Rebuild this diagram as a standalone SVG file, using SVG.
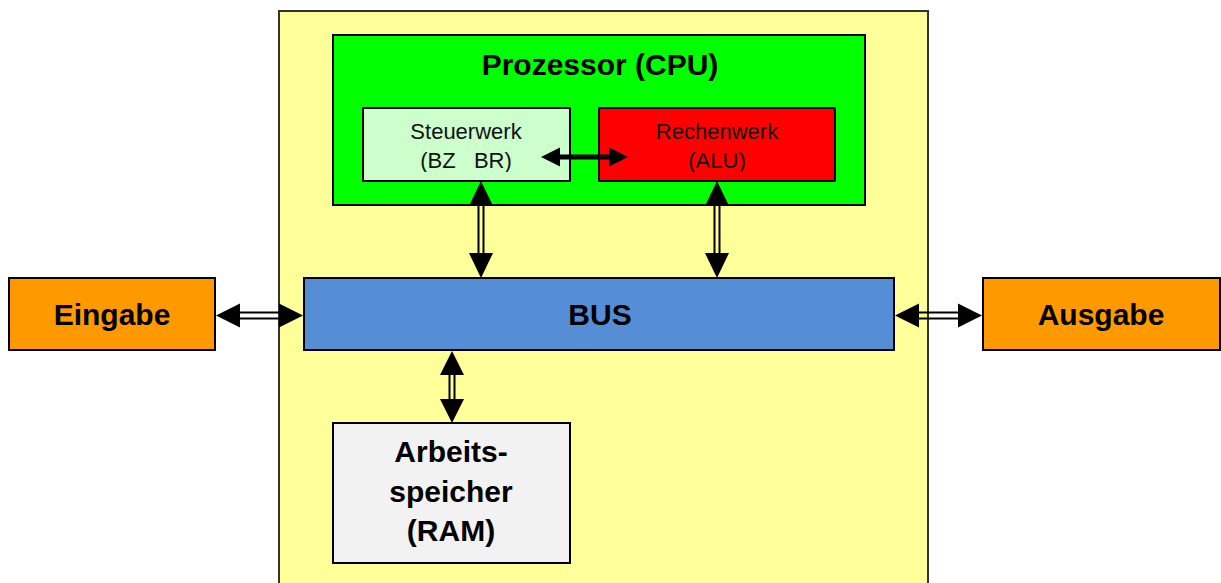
<svg xmlns="http://www.w3.org/2000/svg" width="1221" height="583" viewBox="0 0 1221 583">
  <style>
    .box { stroke: #000; stroke-width: 2; }
    .big { font-family: "Liberation Sans", Arial, sans-serif; font-size: 30px; font-weight: bold; text-anchor: middle; fill: #000; }
    .small { font-family: "Liberation Sans", Arial, sans-serif; font-size: 22px; text-anchor: middle; fill: #111; }
    .rail { stroke: #000; stroke-width: 2; fill: none; }
    .head { fill: #000; }
  </style>
  <defs>
    <clipPath id="clipSteuer"><rect x="364" y="109" width="205" height="63"/></clipPath>
    <clipPath id="clipRechen"><rect x="600" y="109" width="234" height="63"/></clipPath>
  </defs>
  <rect width="1221" height="583" fill="#fff"/>

  <!-- computer housing -->
  <g id="housing">
    <rect x="279" y="11" width="649" height="580" fill="#FFFF99" stroke="#333" stroke-width="2"/>
  </g>

  <!-- processor -->
  <g id="cpu">
    <rect class="box" x="333" y="35" width="532" height="170" fill="#00FF00"/>
    <text class="big" x="600" y="75" font-size="30.5">Prozessor (CPU)</text>
  </g>
  <g id="steuerwerk">
    <rect class="box" x="363" y="108" width="207" height="73" fill="#CCFFCC"/>
    <g clip-path="url(#clipSteuer)">
      <text class="small" x="466" y="139">Steuerwerk</text>
      <text class="small" x="466" y="168" xml:space="preserve">(BZ   BR)</text>
    </g>
  </g>
  <g id="rechenwerk">
    <rect class="box" x="599" y="108" width="236" height="73" fill="#FF0000"/>
    <g clip-path="url(#clipRechen)">
      <text class="small" x="717" y="139">Rechenwerk</text>
      <text class="small" x="717" y="168">(ALU)</text>
    </g>
  </g>

  <!-- system bus -->
  <g id="bus">
    <rect class="box" x="304" y="278" width="590" height="72" fill="#558ED5"/>
    <text class="big" x="600" y="325">BUS</text>
  </g>

  <!-- peripherals -->
  <g id="eingabe">
    <rect class="box" x="9" y="278" width="206" height="72" fill="#FF9900"/>
    <text class="big" x="112" y="325">Eingabe</text>
  </g>
  <g id="ausgabe">
    <rect class="box" x="983" y="278" width="237" height="72" fill="#FF9900"/>
    <text class="big" x="1101" y="325">Ausgabe</text>
  </g>

  <!-- main memory -->
  <g id="ram">
    <rect class="box" x="333" y="423" width="237" height="140" fill="#F2F2F2"/>
    <text class="big" x="451" y="462">Arbeits-</text>
    <text class="big" x="451" y="502">speicher</text>
    <text class="big" x="451" y="541">(RAM)</text>
  </g>

  <!-- connectors -->
  <g id="connectors">
    <!-- Steuerwerk <-> Rechenwerk (solid) -->
    <line x1="556" y1="157" x2="612" y2="157" stroke="#000" stroke-width="5"/>
    <polygon class="head" points="541,157 560,147.5 560,166.5"/>
    <polygon class="head" points="628,157 609,147.5 609,166.5"/>

    <!-- Steuerwerk <-> BUS -->
    <path class="rail" d="M478.5,203 V256 M483.5,203 V256"/>
    <polygon class="head" points="481,181 469,206 493,206"/>
    <polygon class="head" points="481,278 469,253 493,253"/>

    <!-- Rechenwerk <-> BUS -->
    <path class="rail" d="M714.5,203 V256 M719.5,203 V256"/>
    <polygon class="head" points="717,181 705,206 729,206"/>
    <polygon class="head" points="717,278 705,253 729,253"/>

    <!-- BUS <-> RAM -->
    <path class="rail" d="M449.5,373 V401 M454.5,373 V401"/>
    <polygon class="head" points="452,351 440,375 464,375"/>
    <polygon class="head" points="452,423 440,399 464,399"/>

    <!-- Eingabe <-> BUS -->
    <path class="rail" d="M237,312.5 H282 M237,318.5 H282"/>
    <polygon class="head" points="216,315.5 240,303.5 240,327.5"/>
    <polygon class="head" points="303,315.5 279,303.5 279,327.5"/>

    <!-- BUS <-> Ausgabe -->
    <path class="rail" d="M917,312.5 H961 M917,318.5 H961"/>
    <polygon class="head" points="895,315.5 919,303.5 919,327.5"/>
    <polygon class="head" points="982,315.5 958,303.5 958,327.5"/>
  </g>
</svg>
